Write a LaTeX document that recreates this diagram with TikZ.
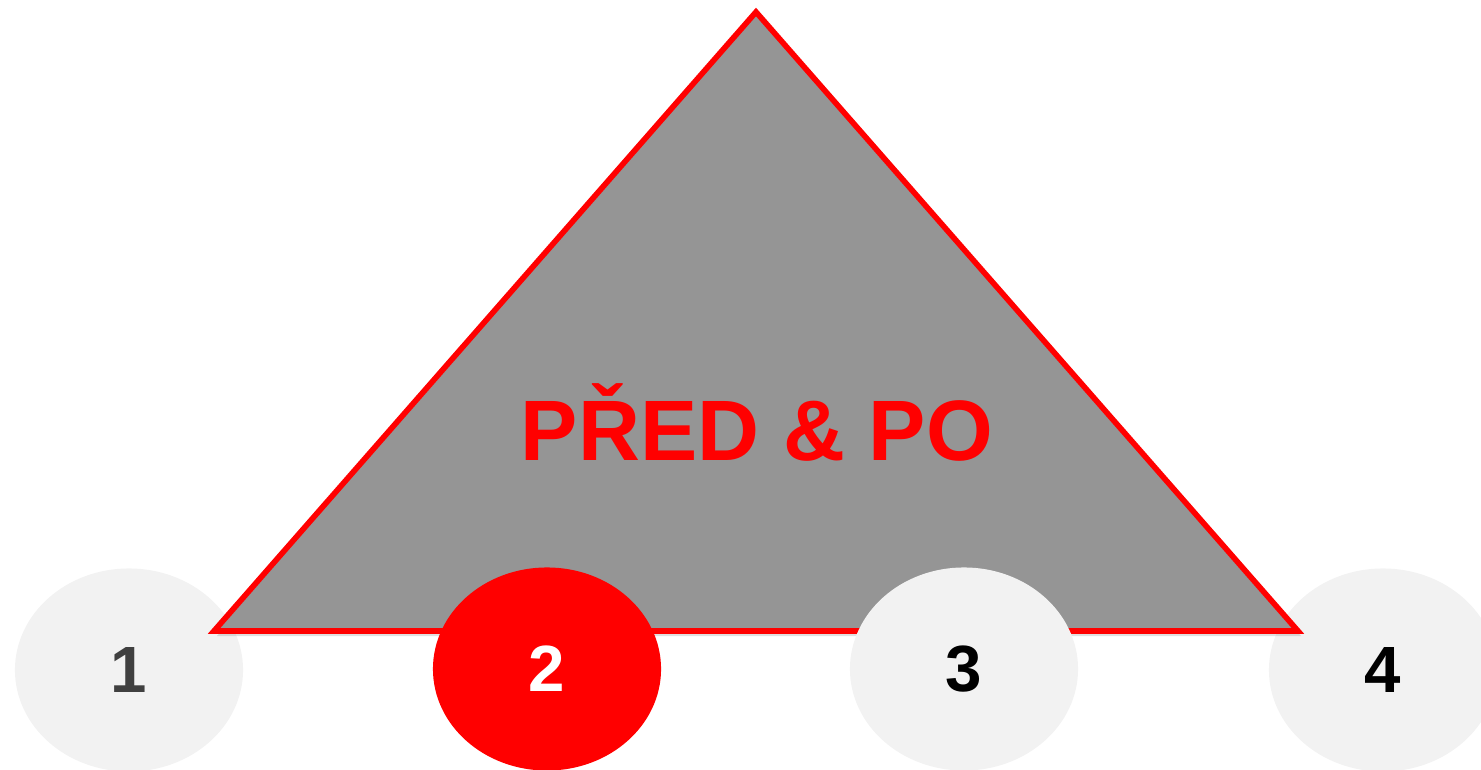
\documentclass[tikz,border=0pt]{standalone}
\usepackage{fontspec}
\setmainfont{Liberation Sans}
\usetikzlibrary{shapes.geometric,shadows}
\definecolor{tgray}{HTML}{959595}
\definecolor{lgray}{HTML}{F2F2F2}
\definecolor{dgray}{HTML}{404040}
\definecolor{pred}{HTML}{FF0000}
\tikzset{
  stage/.style={ellipse, fill=lgray, minimum width=2.28cm, minimum height=2.03cm, inner sep=0pt,
    font=\fontsize{18.6}{20}\selectfont\bfseries},
}
\begin{document}
\begin{tikzpicture}[x=0.01cm,y=-0.01cm]
\useasboundingbox (0,0) rectangle (1481,770);
\node[stage, text=dgray] (1) at (129,670) {1};
\node[stage, text=black] (4) at (1383,670) {4};
\draw[pred, line width=1.6pt, fill=tgray, drop shadow={opacity=0.25, shadow xshift=0.03cm, shadow yshift=-0.05cm}]
  (756,12) -- (1298,631) -- (214,631) -- cycle;
\node[text=pred, anchor=base, font=\fontsize{24.4}{28}\selectfont\bfseries] (title) at (757,460) {PŘED \& PO};
\node[stage, fill=pred, text=white] (2) at (547,669) {2};
\node[stage, text=black] (3) at (964,669) {3};
\end{tikzpicture}
\end{document}
